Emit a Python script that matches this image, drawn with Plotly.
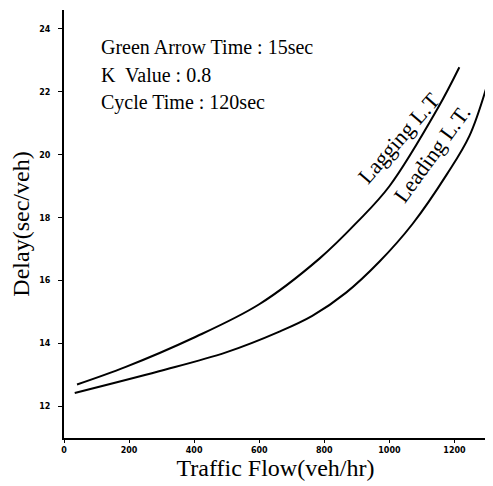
import plotly.graph_objects as go

# Data
lagging_flow = [40, 190, 395, 600, 785, 900, 1000, 1150, 1215]
lagging_delay = [12.70, 13.26, 14.17, 15.25, 16.70, 17.85, 19.00, 21.50, 22.78]

leading_flow = [33, 292, 498, 662, 763, 867, 969, 1071, 1178, 1246, 1300]
leading_delay = [12.43, 13.12, 13.72, 14.38, 14.88, 15.62, 16.60, 17.80, 19.40, 20.60, 22.20]

x_ticks = [0, 200, 400, 600, 800, 1000, 1200]
y_ticks = [12, 14, 16, 18, 20, 22, 24]

info_lines = ["Green Arrow Time : 15sec", "K\u00a0 Value : 0.8", "Cycle Time : 120sec"]
curve_labels = ["Lagging L.T", "Leading L.T."]

SERIF = "Liberation Serif, Times New Roman, serif"

fig = go.Figure()
fig.add_trace(go.Scatter(x=lagging_flow, y=lagging_delay, mode="lines",
                         line=dict(color="black", width=2, shape="spline", smoothing=1.0),
                         name=curve_labels[0], showlegend=False))
fig.add_trace(go.Scatter(x=leading_flow, y=leading_delay, mode="lines",
                         line=dict(color="black", width=2, shape="spline", smoothing=1.0),
                         name=curve_labels[1], showlegend=False))

# info text block
info_y = [23.42, 22.54, 21.65]
for txt, yy in zip(info_lines, info_y):
    fig.add_annotation(x=108, y=yy, xref="x", yref="y", text=txt, showarrow=False,
                       xanchor="left", yanchor="middle",
                       font=dict(family=SERIF, size=20, color="black"))

# curve labels
fig.add_annotation(x=1031, y=20.54, text=curve_labels[0], showarrow=False, textangle=-49,
                   font=dict(family=SERIF, size=22, color="black"))
fig.add_annotation(x=1132, y=20.04, text=curve_labels[1], showarrow=False, textangle=-54,
                   font=dict(family=SERIF, size=22, color="black"))

# page body has an 8px default margin, so the figure is sized to fit the window
fig.update_layout(
    width=485, height=478,
    margin=dict(l=56, r=6, t=2, b=48),
    paper_bgcolor="white", plot_bgcolor="white",
    showlegend=False,
)
fig.update_xaxes(range=[0, 1300], tickvals=x_ticks, showgrid=False, zeroline=False,
                 automargin=False,
                 showline=True, linecolor="black", linewidth=2,
                 ticks="outside", ticklen=3, tickcolor="black",
                 tickfont=dict(family="DejaVu Sans", size=8, color="black", weight="bold"),
                 title=dict(text="Traffic Flow(veh/hr)", standoff=6,
                            font=dict(family=SERIF, size=24, color="black")))
fig.update_yaxes(range=[11, 24.6], tickvals=y_ticks, showgrid=False, zeroline=False,
                 automargin=False,
                 showline=True, linecolor="black", linewidth=2,
                 ticks="outside", ticklen=4, tickcolor="black", ticklabelstandoff=6,
                 tickfont=dict(family="DejaVu Sans", size=8, color="black", weight="bold"),
                 title=dict(text="Delay(sec/veh)", standoff=6,
                            font=dict(family=SERIF, size=24, color="black")))

fig.write_html("out.html")
